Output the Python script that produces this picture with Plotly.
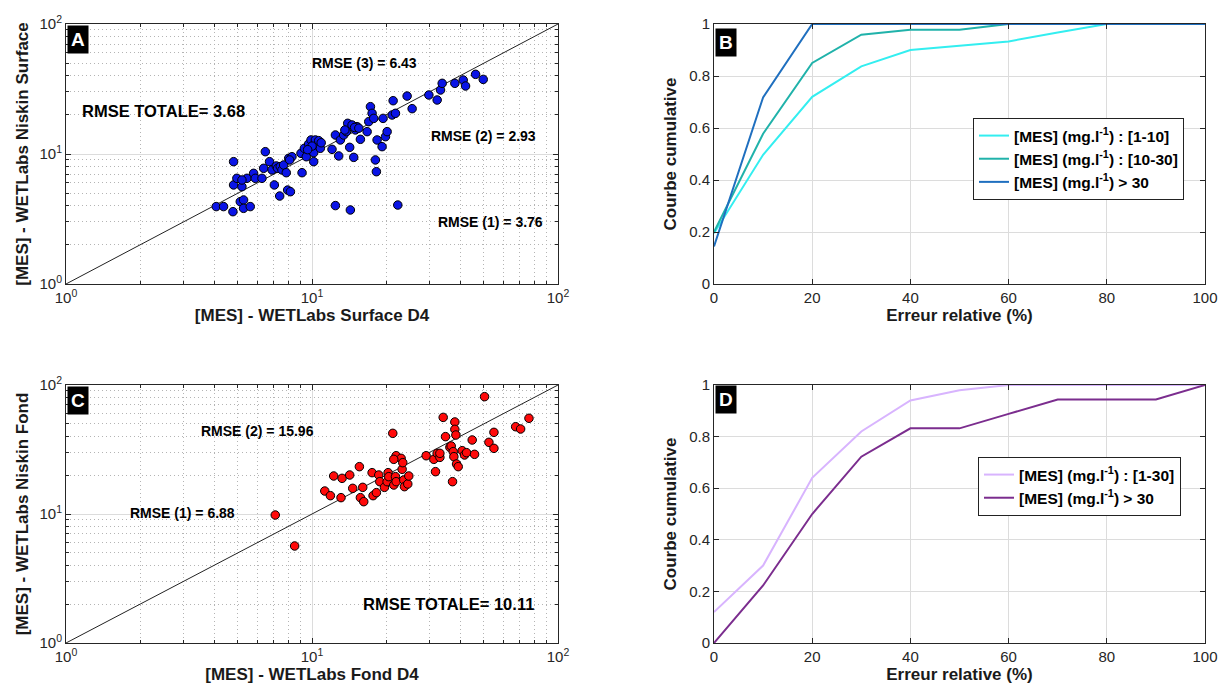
import plotly.graph_objects as go

# ---------------- data ----------------
# Panel A : surface
a_x = [4.08, 4.37, 4.77, 4.80, 4.80, 4.95, 5.19, 5.11, 5.27, 5.27, 5.61, 5.44, 5.19, 5.79, 5.88,
       6.26, 6.36, 6.46, 6.72, 6.88, 7.03, 7.16, 7.25, 7.43, 7.55, 7.39, 7.67, 7.96, 8.17, 7.86,
       8.04, 8.29, 8.11, 9.11, 9.02, 9.31, 9.48, 9.69, 9.91, 10.16, 10.32, 10.48, 10.65, 10.16, 10.16,
       10.81, 12.06, 12.45, 12.84, 13.04, 13.45, 13.80, 13.97, 14.23, 14.55, 14.78, 15.01, 15.25, 15.73,
       16.75, 17.01, 17.28, 17.55, 17.82, 18.10, 18.27, 18.39, 19.27, 19.89, 20.20, 19.45, 21.17, 21.37,
       21.84, 12.45, 14.32, 22.32, 24.36, 25.53, 29.86, 32.27, 33.30, 33.82, 38.08, 41.18, 42.09, 46.24,
       49.66, 10.0, 10.9, 9.6, 14.9, 15.5, 13.6]
a_y = [3.94, 3.94, 3.60, 8.73, 5.78, 6.50, 5.61, 4.30, 4.43, 3.82, 3.94, 6.50, 6.31, 7.10, 6.50,
       6.50, 7.76, 10.42, 8.73, 7.54, 5.78, 8.09, 7.76, 7.99, 7.54, 4.75, 8.23, 5.28, 5.13, 7.18,
       9.26, 9.53, 9.00, 7.18, 10.12, 11.06, 9.53, 11.94, 12.82, 11.73, 12.82, 11.25, 12.67, 8.73, 10.24,
       11.06, 10.86, 14.00, 9.66, 12.82, 14.00, 14.86, 17.22, 11.25, 16.71, 9.42, 15.31, 16.23, 12.97,
       14.86, 17.74, 23.12, 20.55, 18.79, 9.00, 7.31, 12.82, 11.39, 13.59, 14.86, 18.79, 19.95, 25.70,
       20.55, 4.01, 3.71, 4.05, 27.90, 22.32, 28.43, 26.03, 31.07, 34.96, 34.96, 37.07, 33.34, 41.00,
       37.50, 11.5, 12.2, 10.8, 16.0, 15.8, 15.3]

# Panel C : bottom
c_x = [7.09, 8.50, 11.27, 11.88, 12.25, 13.12, 13.25, 14.23, 14.64, 15.58, 15.73, 16.08, 16.23, 17.55,
       17.71, 18.27, 18.68, 18.86, 19.70, 20.20, 20.39, 20.51, 21.30, 21.50, 21.84, 21.98, 21.98, 23.03,
       23.25, 23.39, 23.61, 23.76, 24.51, 24.74, 29.11, 31.28, 31.77, 32.27, 33.10, 33.10, 34.14, 34.89,
       36.35, 36.80, 37.26, 37.50, 37.73, 38.08, 38.08, 38.45, 38.69, 39.30, 40.79, 41.69, 42.48, 44.80,
       45.79, 50.29, 52.38, 54.90, 54.90, 67.27, 70.47, 76.20, 21.50]
c_y = [9.82, 5.65, 15.07, 13.87, 19.71, 13.39, 18.90, 20.06, 15.81, 23.28, 13.39, 16.09, 12.46, 20.91,
       13.87, 14.64, 20.06, 17.81, 16.09, 17.81, 20.91, 19.47, 42.20, 16.78, 19.47, 28.30, 17.81, 27.00,
       22.20, 25.00, 18.35, 16.29, 17.09, 19.71, 28.30, 26.53, 21.29, 29.53, 27.48, 29.53, 56.10, 39.78,
       32.87, 33.66, 17.81, 30.42, 27.83, 51.70, 45.30, 40.96, 24.42, 23.28, 30.97, 28.67, 29.89, 37.47,
       29.01, 81.20, 35.94, 42.95, 32.28, 47.50, 45.60, 55.20, 26.53]

diag = [1, 100]

# Panels B / D : cumulative curves
err_pct = [0, 10, 20, 30, 40, 50, 60, 70, 80, 90, 100]
b_1_10 = [0.195, 0.497, 0.72, 0.837, 0.90, 0.917, 0.933, 0.967, 1.0, 1.0, 1.0]
b_10_30 = [0.20, 0.578, 0.85, 0.959, 0.978, 0.978, 1.0, 1.0, 1.0, 1.0, 1.0]
b_gt30 = [0.144, 0.718, 1.0, 1.0, 1.0, 1.0, 1.0, 1.0, 1.0, 1.0, 1.0]
d_1_30 = [0.12, 0.30, 0.64, 0.82, 0.94, 0.98, 1.0, 1.0, 1.0, 1.0, 1.0]
d_gt30 = [0.0, 0.223, 0.50, 0.722, 0.832, 0.832, 0.888, 0.944, 0.944, 0.944, 1.0]

log_ticks = [1, 10, 100]
log_ticktext = ["10<sup>0</sup>", "10<sup>1</sup>", "10<sup>2</sup>"]
log_minor = [m * d for d in (1, 10) for m in range(2, 10)]
lin_yticks = [0, 0.2, 0.4, 0.6, 0.8, 1]
lin_yticktext = ["0", "0.2", "0.4", "0.6", "0.8", "1"]
lin_xticks = [0, 20, 40, 60, 80, 100]

# ---------------- figure ----------------
W, H = 1222, 691
FONT = "Liberation Sans"
AX = "#262626"

def px(x):
    return x / W

def py(y):
    return 1 - y / H

fig = go.Figure()

fig.add_trace(go.Scatter(x=diag, y=diag, mode="lines", line=dict(color="#222", width=1),
                         xaxis="x", yaxis="y", showlegend=False, hoverinfo="skip"))
fig.add_trace(go.Scatter(x=a_x, y=a_y, mode="markers",
                         marker=dict(color="#0a14e6", size=8.5, line=dict(color="black", width=1)),
                         xaxis="x", yaxis="y", showlegend=False))
fig.add_trace(go.Scatter(x=diag, y=diag, mode="lines", line=dict(color="#222", width=1),
                         xaxis="x3", yaxis="y3", showlegend=False, hoverinfo="skip"))
fig.add_trace(go.Scatter(x=c_x, y=c_y, mode="markers",
                         marker=dict(color="#ff0a0a", size=8.5, line=dict(color="black", width=1)),
                         xaxis="x3", yaxis="y3", showlegend=False))

leg_b = [("<b>[MES] (mg.l<sup>-1</sup>) : [1-10]</b>", b_1_10, "#33eef0"),
         ("<b>[MES] (mg.l<sup>-1</sup>) : [10-30]</b>", b_10_30, "#20b2aa"),
         ("<b>[MES] (mg.l<sup>-1</sup>) > 30</b>", b_gt30, "#1f6fbf")]
for name, vals, col in leg_b:
    fig.add_trace(go.Scatter(x=err_pct, y=vals, mode="lines", name=name,
                             line=dict(color=col, width=2), xaxis="x2", yaxis="y2",
                             legend="legend"))
leg_d = [("<b>[MES] (mg.l<sup>-1</sup>) : [1-30]</b>", d_1_30, "#d8b4fe"),
         ("<b>[MES] (mg.l<sup>-1</sup>) > 30</b>", d_gt30, "#7b2d8e")]
for name, vals, col in leg_d:
    fig.add_trace(go.Scatter(x=err_pct, y=vals, mode="lines", name=name,
                             line=dict(color=col, width=2), xaxis="x4", yaxis="y4",
                             legend="legend2"))

title_font = dict(family=FONT, size=17, color="#1a1a1a")
tick_font = dict(family=FONT, size=15, color=AX)

common = dict(showline=True, linecolor=AX, linewidth=1, mirror="ticks", ticks="inside",
              ticklen=5, tickcolor=AX, tickfont=tick_font, zeroline=False, automargin=False,
              showgrid=True, gridcolor="#dcdcdc", gridwidth=1)

def log_axis(domain, anchor, title, standoff):
    return dict(common, type="log", range=[0, 2], domain=domain, anchor=anchor,
                tickvals=log_ticks, ticktext=log_ticktext,
                minor=dict(tickvals=log_minor, showgrid=True, griddash="1px,3px",
                           gridcolor="#b4b4b4", ticks="inside", ticklen=3, tickcolor=AX),
                title=dict(text="<b>%s</b>" % title, font=title_font, standoff=standoff))

def lin_axis(domain, anchor, rng, tv, tt, title, standoff):
    return dict(common, range=rng, domain=domain, anchor=anchor, tickvals=tv, ticktext=tt,
                title=dict(text="<b>%s</b>" % title, font=title_font, standoff=standoff))

xdA = [px(66), px(558)]
xdB = [px(714), px(1205)]
ydTop = [py(284), py(24)]
ydBot = [py(643), py(385)]

fig.update_layout(
    width=W, height=H, paper_bgcolor="white", plot_bgcolor="white",
    margin=dict(l=0, r=0, t=0, b=0),
    xaxis=log_axis(xdA, "y", "[MES] - WETLabs Surface D4", 2),
    yaxis=log_axis(ydTop, "x", "[MES] - WETLabs Niskin Surface", 6),
    xaxis3=log_axis(xdA, "y3", "[MES] - WETLabs Fond D4", 2),
    yaxis3=log_axis(ydBot, "x3", "[MES] - WETLabs Niskin Fond", 6),
    xaxis2=lin_axis(xdB, "y2", [0, 100], lin_xticks, [str(v) for v in lin_xticks],
                    "Erreur relative (%)", 2),
    yaxis2=lin_axis(ydTop, "x2", [0, 1], lin_yticks, lin_yticktext, "Courbe cumulative", 8),
    xaxis4=lin_axis(xdB, "y4", [0, 100], lin_xticks, [str(v) for v in lin_xticks],
                    "Erreur relative (%)", 2),
    yaxis4=lin_axis(ydBot, "x4", [0, 1], lin_yticks, lin_yticktext, "Courbe cumulative", 8),
    legend=dict(x=px(973), y=py(118), xanchor="left", yanchor="top", itemwidth=30,
                bgcolor="white", bordercolor="#222", borderwidth=1,
                font=dict(family=FONT, size=15.5, color="black"), tracegroupgap=0),
    legend2=dict(x=px(978), y=py(457), xanchor="left", yanchor="top", itemwidth=30,
                 bgcolor="white", bordercolor="#222", borderwidth=1,
                 font=dict(family=FONT, size=15.5, color="black"), tracegroupgap=0),
)

# panel letters
for letter, x0, y0 in [("A", 66, 25), ("B", 714, 28), ("C", 66, 386), ("D", 714, 385)]:
    fig.add_annotation(text="<b>%s</b>" % letter, xref="paper", yref="paper",
                       x=px(x0 + 1), y=py(y0), xanchor="left", yanchor="top", showarrow=False,
                       bgcolor="black", borderpad=3,
                       font=dict(family=FONT, size=19, color="white"))

# RMSE labels
labels = [("RMSE (3) = 6.43", 364, 63, 14),
          ("RMSE TOTALE= 3.68", 163, 111, 16.5),
          ("RMSE (2) = 2.93", 483, 136, 14),
          ("RMSE (1) = 3.76", 490, 222, 14),
          ("RMSE (2) = 15.96", 257, 431, 14),
          ("RMSE (1) = 6.88", 182, 513, 14),
          ("RMSE TOTALE= 10.11", 448, 604, 16.5)]
for txt, x0, y0, sz in labels:
    fig.add_annotation(text="<b>%s</b>" % txt, xref="paper", yref="paper",
                       x=px(x0), y=py(y0), xanchor="center", yanchor="middle", showarrow=False,
                       font=dict(family=FONT, size=sz, color="black"))

fig.write_html("out.html", config={"displayModeBar": False},
               post_script="document.body.style.margin='0';document.body.style.overflow='hidden';")
